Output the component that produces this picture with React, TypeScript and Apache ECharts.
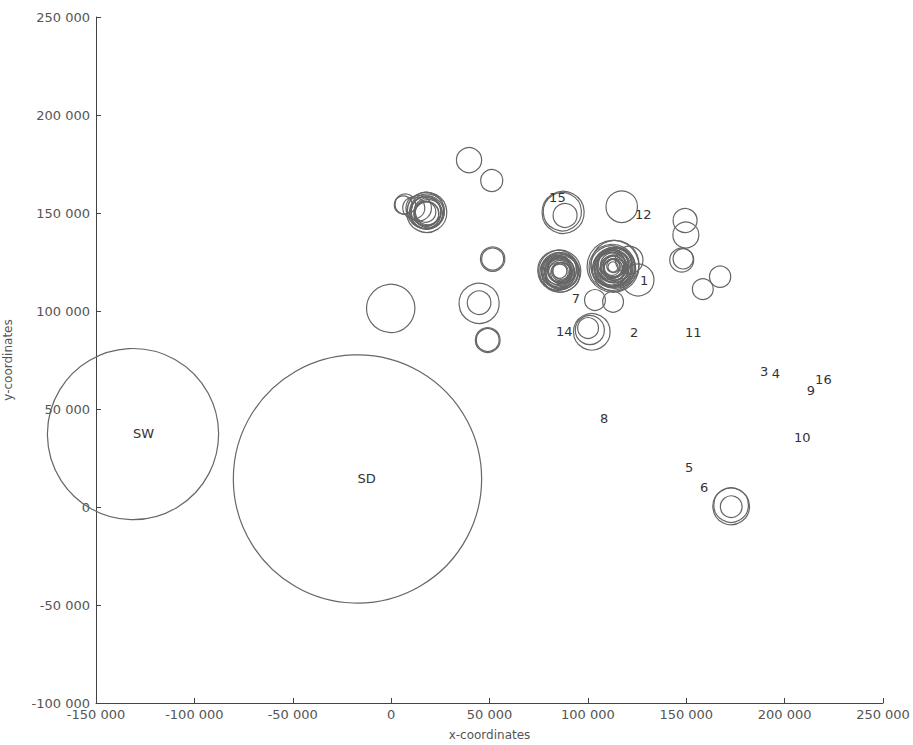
import React, { useEffect, useRef } from "react";
import * as echarts from "echarts";

// Circles: [x, y, radius] in data units
const bigCircles: number[][] = [
  [-131200, 37700, 43500],
  [-17100, 14300, 63100],
  [-200, 101800, 12300],
];

const singleCircles: number[][] = [
  [39600, 177000, 6400],
  [51100, 167200, 5600],
  [51600, 126500, 5600],
  [51600, 126500, 6200],
  [44700, 104700, 10200],
  [44700, 104700, 6000],
  [49100, 85200, 5800],
  [49100, 85200, 6300],
  [117200, 153200, 8000],
  [125500, 115800, 8100],
  [103600, 105600, 5300],
  [112800, 104700, 5300],
  [102000, 89400, 9300],
  [101000, 90300, 7400],
  [100100, 91300, 5300],
  [87400, 150700, 10700],
  [87000, 151200, 9700],
  [88400, 149000, 6100],
  [149400, 146400, 6100],
  [149800, 138800, 6600],
  [147700, 126000, 6100],
  [148400, 127000, 5100],
  [158400, 111600, 5300],
  [167200, 117500, 5400],
  [172800, 1000, 9300],
  [172800, 1000, 8800],
  [172800, 1000, 5500],
];

const clusterWest: number[][] = [
  [6200, 154100, 4600],
  [7200, 154500, 5200],
  [11500, 153000, 5600],
  [14000, 152500, 6500],
  [18100, 150700, 10200],
  [17600, 151200, 9300],
  [18400, 150200, 8400],
  [17800, 151000, 7600],
  [18600, 150900, 6800],
  [18100, 150300, 6000],
  [17500, 150900, 5200],
  [18900, 150100, 7200],
  [17300, 150500, 8000],
  [18300, 151400, 8800],
  [17900, 149800, 6400],
];

const clusterMid: number[][] = [
  [85700, 120300, 10700],
  [84700, 121300, 10200],
  [86200, 119800, 9700],
  [85200, 120800, 9000],
  [86700, 120300, 8400],
  [85700, 119300, 7700],
  [84900, 120600, 7000],
  [86200, 121000, 6400],
  [85700, 120000, 5700],
  [85000, 119800, 5000],
  [86500, 120500, 4300],
  [85700, 120300, 3600],
  [84400, 119500, 8800],
  [86900, 121400, 7300],
  [85300, 121700, 6000],
  [86400, 119200, 5300],
  [85100, 120200, 7900],
  [86000, 120900, 9300],
  [85500, 119700, 6700],
  [86300, 120100, 4700],
];

const clusterEast: number[][] = [
  [112800, 122800, 13200],
  [113800, 123800, 12200],
  [112300, 122300, 11700],
  [113300, 121800, 11000],
  [112000, 123300, 10500],
  [113000, 122800, 9900],
  [112500, 122000, 9300],
  [113500, 123300, 8700],
  [112800, 122500, 8100],
  [112200, 123000, 7500],
  [113300, 122300, 7000],
  [112800, 123300, 6400],
  [112500, 122500, 5800],
  [113000, 122800, 5200],
  [112800, 122000, 4600],
  [112300, 122800, 4000],
  [113000, 123000, 3400],
  [112800, 122500, 2600],
  [121000, 126000, 7000],
  [111800, 121800, 8500],
  [114000, 122300, 9600],
  [112200, 124000, 6800],
  [113600, 121500, 5500],
  [112600, 123500, 7800],
  [113200, 122000, 6100],
  [112000, 122400, 9000],
  [113900, 123000, 10200],
  [112700, 121600, 4900],
];

const labelNames: string[] = ["SW", "SD", "15", "12", "1", "7", "14", "2", "11", "3", "4", "16", "9", "10", "5", "6", "8"];
const labelX: number[] = [-131200, -17100, 80300, 124000, 126500, 91800, 83800, 121400, 149400, 187500, 193500, 215500, 211300, 204800, 149400, 157000, 106200];
const labelY: number[] = [37700, 14300, 157700, 149000, 115800, 106500, 89400, 88900, 88800, 69000, 67900, 64800, 59300, 35600, 19900, 9700, 45400];

const fmt = (v: number) => {
  const s = Math.abs(v).toString().replace(/\B(?=(\d{3})+(?!\d))/g, " ");
  return (v < 0 ? "-" : "") + s;
};

const FONT = "DejaVu Sans";

export default function App() {
  const ref = useRef<HTMLDivElement>(null);
  useEffect(() => {
    if (!ref.current) return;
    const chart = echarts.init(ref.current, undefined, { renderer: "svg" });
    const allCircles = [...bigCircles, ...singleCircles, ...clusterWest, ...clusterMid, ...clusterEast];
    const axisCommon = {
      axisLine: { show: true, onZero: false, lineStyle: { color: "#444", width: 1 } },
      axisTick: { show: true, inside: true, length: 5, lineStyle: { color: "#444" } },
      splitLine: { show: false },
      nameTextStyle: { color: "#555", fontFamily: FONT, fontSize: 12 },
    };
    chart.setOption({
      animation: false,
      backgroundColor: "#fff",
      grid: { left: 96, right: 30, top: 17, bottom: 42, containLabel: false, outerBoundsMode: "none" },
      xAxis: {
        type: "value",
        min: -150000,
        max: 250000,
        interval: 50000,
        name: "x-coordinates",
        nameLocation: "middle",
        nameGap: 26,
        ...axisCommon,
        axisLabel: { color: "#555", fontFamily: FONT, fontSize: 13, margin: 5, formatter: fmt },
      },
      yAxis: {
        type: "value",
        min: -100000,
        max: 250000,
        interval: 50000,
        name: "y-coordinates",
        nameLocation: "middle",
        nameGap: 82,
        ...axisCommon,
        axisLabel: { color: "#555", fontFamily: FONT, fontSize: 13, margin: 6, formatter: fmt },
      },
      series: [
        {
          type: "custom",
          coordinateSystem: "cartesian2d",
          clip: false,
          data: allCircles,
          renderItem: (params: any, api: any) => {
            const c = api.coord([api.value(0), api.value(1)]);
            const s = api.size([api.value(2), api.value(2)]);
            return {
              type: "circle",
              shape: { cx: c[0], cy: c[1], r: s[0] },
              style: { fill: "none", stroke: "#666", lineWidth: 1.2 },
            };
          },
        },
        {
          type: "custom",
          coordinateSystem: "cartesian2d",
          clip: false,
          data: labelX.map((x, i) => [x, labelY[i]]),
          renderItem: (params: any, api: any) => {
            const c = api.coord([api.value(0), api.value(1)]);
            return {
              type: "text",
              x: c[0],
              y: c[1],
              style: {
                text: labelNames[params.dataIndex],
                fill: "#333",
                font: `13px "${FONT}"`,
                align: "left",
                verticalAlign: "middle",
              },
            };
          },
        },
      ],
    });
    return () => chart.dispose();
  }, []);
  return <div ref={ref} style={{ position: "fixed", left: 0, top: 0, width: 913, height: 745 }} />;
}
